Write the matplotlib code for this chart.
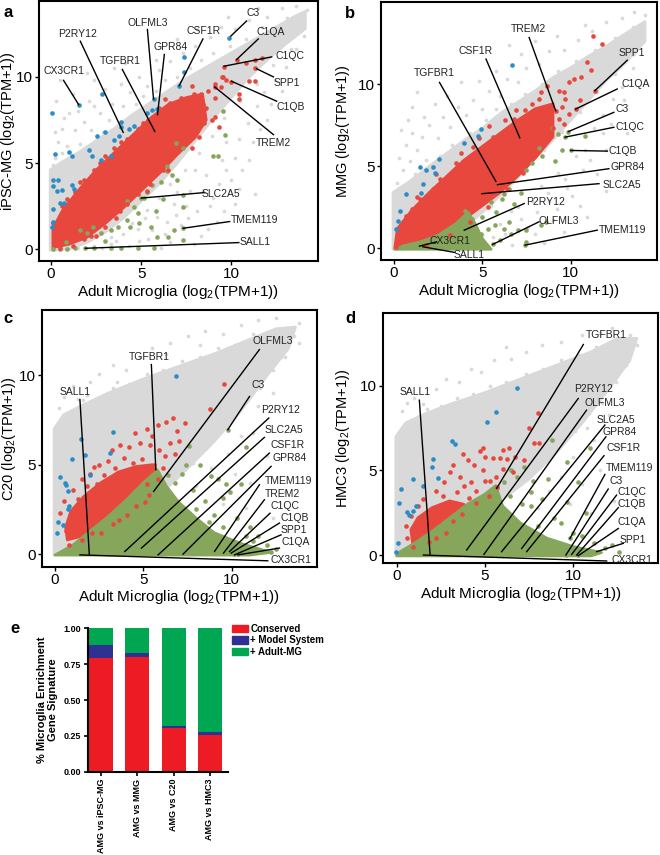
import numpy as np
import matplotlib
matplotlib.use("Agg")
import matplotlib.pyplot as plt
from matplotlib.patches import Polygon, Patch

plt.rcParams['font.family'] = ['Liberation Sans', 'DejaVu Sans']
plt.rcParams['mathtext.fontset'] = 'custom'
plt.rcParams['mathtext.rm'] = 'Liberation Sans'

# colours
GRAY = '#d9d9d9'
RED = '#e8473e'
BLUE = '#2b8dc8'
GREEN = '#86a65c'

# ---------------- panel a: Adult microglia vs iPSC-MG ----------------
a_gray_core = [(-0.05, -0.05), (-0.05, 4.6), (0.5, 5.0), (1.5, 5.6), (2.5, 6.3), (3.5, 7.0), (4.5, 7.8),
               (5.5, 8.5), (6.5, 9.2), (7.5, 9.9), (8.5, 10.5), (9.5, 11.1), (10.5, 11.7), (11.5, 12.3),
               (12.5, 12.9), (13.5, 13.5), (14.1, 13.8), (14.1, 12.8), (13, 11.9), (12, 11.0), (11, 10.0),
               (10, 8.8), (9, 7.6), (8, 6.3), (7, 5.0), (6, 3.8), (5, 2.8), (4, 1.8), (3, 1.0), (2, 0.4), (1, 0.0)]
a_gray_pts = [(0.2, 5.3), (0.4, 6.2), (0.9, 6.0), (0.6, 7.0), (1.3, 6.9), (1.0, 7.9), (1.8, 7.4), (2.1, 8.6),
              (2.7, 7.9), (3.0, 9.3), (3.4, 8.4), (3.9, 9.6), (4.4, 9.1), (4.9, 10.0), (5.3, 9.5), (6.0, 10.4),
              (6.6, 10.9), (7.3, 11.4), (8.0, 11.8), (8.8, 12.3), (9.4, 12.9), (10.2, 12.8), (11.0, 13.3),
              (12.0, 13.5), (12.8, 14.0), (13.6, 14.1), (14.2, 13.9), (0.3, 8.6), (2.4, 9.8), (4.1, 10.8),
              (2.8, 0.1), (3.6, 0.5), (4.3, 0.2), (4.8, 1.2), (5.4, 0.6), (5.9, 1.9), (6.3, 0.9), (6.8, 2.6),
              (7.2, 1.4), (7.7, 3.4), (8.1, 2.2), (8.6, 4.3), (9.0, 3.0), (9.5, 5.2), (10.0, 4.0), (10.4, 6.4),
              (10.9, 7.3), (11.4, 8.3), (11.8, 9.1), (12.4, 9.8), (13.0, 10.6), (13.6, 11.6), (8.3, 0.8),
              (9.2, 1.6), (10.2, 2.6), (6.1, 0.1), (7.9, 0.3), (11.0, 5.2), (12.0, 7.5), (9.7, 6.2),
              (0.1, 4.9), (0.6, 5.6), (1.1, 5.2), (1.6, 6.1), (2.2, 6.9), (2.9, 6.8), (3.2, 7.5), (4.0, 8.3),
              (4.7, 8.4), (5.1, 8.9), (5.8, 9.2), (6.3, 9.8), (7.0, 10.0), (7.7, 10.5), (8.3, 11.0),
              (9.0, 11.4), (9.9, 11.8), (10.8, 12.2), (11.7, 12.9), (13.1, 13.4), (1.5, 0.1), (2.4, 0.2),
              (3.3, 0.7), (4.5, 1.5), (5.3, 2.3), (6.0, 3.0), (6.6, 3.8), (7.4, 4.6), (8.2, 5.6), (8.9, 6.6),
              (9.6, 7.6), (10.5, 8.6), (11.4, 9.6), (12.3, 10.7), (13.3, 11.6), (14.0, 12.4),
              (5.2, 1.8), (5.6, 1.1), (6.4, 1.6), (6.9, 2.0), (7.5, 2.5), (7.0, 3.3), (8.0, 4.6), (8.4, 3.4),
              (8.8, 2.5), (9.3, 3.8), (9.7, 4.6), (10.2, 5.3), (10.6, 4.6), (11.2, 6.2), (11.6, 7.0), (12.2, 8.4),
              (12.8, 9.2), (6.6, 0.4), (7.6, 1.8), (8.7, 1.2), (9.6, 2.2), (10.4, 3.5), (11.3, 3.2), (4.0, 0.9),
              (3.3, 0.3), (4.9, 0.5), (0.2, 6.8), (0.7, 7.6), (1.5, 8.0), (2.4, 8.3), (1.2, 9.0), (2.0, 10.2),
              (3.5, 10.5), (0.5, 9.8), (5.8, 11.0), (7.0, 12.2), (8.1, 12.8), (9.8, 13.5), (11.5, 14.0)]
a_red_core = [(0.1, 0.1), (1, 0.3), (2, 0.7), (3, 1.5), (4, 2.4), (5, 3.4), (6, 4.4), (7, 5.5), (8, 6.5),
              (8.6, 7.5), (8.4, 9.0), (7.5, 8.8), (6.5, 8.4), (5.5, 7.6), (4.5, 6.6), (3.5, 5.6), (2.5, 4.6),
              (1.5, 3.4), (0.6, 2.2), (0.1, 1.2)]
a_red_pts = [(8.3, 9.0), (7.8, 9.5), (8.6, 8.2), (8.9, 7.5), (9.1, 8.8), (9.4, 9.4), (9.1, 9.6), (9.5, 10.0),
             (9.7, 9.8), (10.0, 9.7), (10.4, 9.0), (10.4, 8.7), (9.6, 10.6), (10.3, 11.0), (10.8, 10.8),
             (11.3, 11.0), (11.7, 11.1), (11.3, 10.5), (11.0, 9.75), (11.3, 9.75), (9.3, 7.1), (9.1, 7.7),
             (8.5, 7.3), (8.2, 6.5), (7.8, 5.9), (7.4, 6.5), (6.8, 5.5), (6.2, 4.6), (5.5, 3.8), (4.8, 3.2),
             (4.2, 2.6), (3.6, 1.8), (3.0, 1.3), (2.5, 0.8), (1.8, 0.6), (1.2, 0.2), (0.5, 0.1), (0.2, 0.8),
             (0.1, 1.5), (0.6, 2.5), (1.3, 3.3), (1.8, 4.0), (2.4, 4.6), (3.0, 5.4), (3.5, 5.9), (4.2, 6.4),
             (4.8, 7.0), (5.4, 7.5), (6.0, 8.2), (6.6, 8.5), (7.2, 8.8), (7.6, 8.0), (9.07, 9.42), (9.53, 10.0),
             (0.4, 0.5), (1.4, 1.9), (2.2, 0.8), (2.9, 2.8), (3.8, 2.2), (4.6, 4.8), (5.3, 3.4), (5.8, 6.2),
             (6.5, 4.6), (7.3, 6.2), (8.0, 7.0), (8.4, 8.4), (8.7, 9.2), (7.9, 9.0), (6.3, 8.7), (5.1, 7.3),
             (3.9, 6.2), (2.7, 5.0), (1.6, 3.9), (0.9, 2.9)]
a_blue_pts = [(9.85, 12.27), (7.36, 11.16), (7.36, 10.27), (7.11, 9.5), (1.53, 8.39), (0.04, 7.9), (2.83, 9.0),
              (5.68, 8.72), (5.62, 8.1), (5.9, 8.16), (5.34, 7.9), (3.85, 7.36), (3.85, 7.1), (4.6, 7.13),
              (4.3, 6.95), (2.55, 6.59), (3.0, 6.78), (3.48, 6.36), (3.75, 6.55), (0.22, 5.54), (0.97, 5.62),
              (1.15, 5.39), (2.09, 5.78), (2.27, 5.4), (2.75, 5.2), (3.3, 5.39), (0.13, 4.03), (0.41, 4.03),
              (0.13, 3.65), (0.32, 3.36), (0.6, 3.46), (1.15, 3.75), (1.25, 3.5), (0.5, 2.67), (0.7, 2.67),
              (0.13, 2.35), (0.04, 1.32), (0.13, 1.61)]
a_green_pts = [(9.53, 8.0), (9.66, 6.65), (8.97, 5.39), (9.25, 5.39), (6.93, 6.16), (7.3, 5.87), (6.41, 4.86),
               (6.41, 4.55), (6.7, 4.3), (5.0, 2.97), (5.34, 3.35), (5.62, 3.74), (6.1, 3.9), (7.3, 3.16),
               (7.3, 2.48), (7.32, 1.22), (7.32, 0.54), (4.6, 2.48), (4.8, 2.1), (5.15, 3.0), (4.2, 2.8),
               (1.9, 0.06), (0.13, 0.0), (0.5, 0.0), (0.87, 0.0), (1.34, 0.1), (2.37, 0.1), (3.3, 0.1),
               (3.85, 0.1), (4.8, 0.1), (5.7, 0.1), (1.62, 1.12), (2.0, 0.93), (2.75, 0.93), (3.3, 1.12),
               (3.7, 1.32), (4.4, 1.3), (4.2, 1.7), (5.53, 1.32), (5.9, 0.74), (6.83, 1.12), (6.5, 0.74),
               (4.85, 1.55), (3.0, 0.5), (2.3, 1.3), (0.8, 0.4), (5.8, 2.2), (6.2, 2.9), (7.0, 4.0)]
a_genes = ["C3", "C1QA", "C1QC", "SPP1", "C1QB", "TREM2", "CSF1R", "GPR84", "OLFML3", "TGFBR1",
           "P2RY12", "CX3CR1", "SLC2A5", "TMEM119", "SALL1"]
a_gene_x = [9.96, 10.28, 9.59, 11.4, 10.0, 9.07, 7.11, 5.9, 5.68, 5.75, 4.0, 1.53, 5.0, 7.32, 1.9]
a_gene_y = [12.36, 11.0, 10.62, 10.47, 9.75, 9.42, 9.5, 7.81, 8.72, 6.84, 6.78, 8.39, 2.97, 1.22, 0.06]

# ---------------- panel b: Adult microglia vs MMG ----------------
b_gray_core = [(-0.05, -0.05), (-0.05, 3.4), (0.8, 4.0), (2, 5.0), (3, 5.8), (4, 6.6), (5, 7.3), (6, 8.2),
               (7, 8.9), (8, 9.6), (9, 10.4), (10, 11.0), (11, 11.7), (12, 12.3), (13, 13.0), (14.2, 13.8),
               (14.2, 12.6), (13, 11.2), (12, 10.2), (11, 9.0), (10, 7.8), (9, 6.6), (8, 5.5), (7, 4.3),
               (6, 3.2), (5, 2.2), (4, 1.3), (3, 0.6), (2, 0.2), (1, 0.0)]
b_gray_pts = [(0.2, 4.0), (0.5, 4.8), (0.3, 5.5), (0.9, 5.3), (0.7, 6.3), (1.3, 6.0), (1.0, 7.0), (1.6, 6.8),
              (0.8, 7.8), (2.0, 7.5), (2.5, 6.7), (2.8, 8.0), (3.2, 7.4), (3.6, 8.6), (4.1, 8.1), (4.5, 9.0),
              (5.0, 8.5), (5.4, 9.6), (6.0, 9.3), (6.4, 10.3), (7.0, 10.1), (7.5, 11.0), (8.2, 11.2),
              (8.8, 12.0), (9.6, 12.1), (10.4, 12.7), (11.2, 13.2), (12.0, 13.8), (12.9, 14.0), (13.6, 14.4),
              (14.2, 14.2), (3.8, 10.1), (1.3, 9.5), (6.5, 12.4), (3.0, 0.1), (4.0, 0.3), (5.0, 0.8),
              (6.0, 1.5), (6.6, 2.3), (7.2, 1.8), (7.8, 2.9), (8.3, 3.8), (8.8, 2.9), (9.3, 4.6), (9.8, 3.7),
              (10.3, 5.6), (10.8, 6.0), (11.3, 7.3), (11.8, 8.1), (12.4, 9.1), (12.9, 9.8), (13.5, 11.0),
              (9.0, 1.7), (10.5, 2.6), (11.5, 4.5), (12.0, 6.0), (8.0, 0.9), (6.7, 0.2), (8.5, 0.3),
              (0.3, 3.7), (1.2, 4.5), (1.8, 5.4), (2.6, 5.6), (3.3, 6.3), (4.3, 7.0), (5.2, 7.8), (5.8, 8.5),
              (6.6, 8.8), (7.4, 9.4), (8.4, 10.0), (9.3, 10.8), (10.3, 11.4), (11.4, 12.1), (12.5, 12.8),
              (13.5, 13.5), (1.5, 0.1), (2.6, 0.3), (3.5, 0.9), (4.5, 1.6), (5.5, 2.6), (6.5, 3.7), (7.5, 4.8),
              (8.5, 6.0), (9.5, 7.1), (10.5, 8.3), (11.5, 9.5), (12.5, 10.6), (13.6, 11.8),
              (5.6, 0.7), (6.3, 0.9), (7.0, 2.5), (7.6, 1.3), (8.1, 2.2), (8.7, 3.4), (9.2, 2.4), (9.7, 4.2),
              (10.1, 3.2), (10.7, 4.8), (11.1, 5.4), (11.8, 7.0), (12.3, 7.6), (13.0, 9.0), (9.6, 1.0),
              (10.9, 1.9), (12.0, 3.5), (12.6, 5.0), (13.2, 7.0), (0.4, 7.2), (1.7, 8.0), (2.3, 8.8),
              (3.0, 9.3), (1.0, 8.6), (4.8, 10.2), (5.8, 10.8), (7.2, 11.8), (8.0, 12.6), (9.2, 12.9), (10.8, 13.6)]
b_red_core = [(0.05, 0.0), (1, 0.05), (2, 0.45), (3, 1.1), (4, 1.8), (5, 2.6), (6, 3.4), (7, 4.4), (8, 5.5),
              (9, 6.8), (9, 8.8), (8, 8.5), (7, 7.8), (6, 7.0), (5, 6.2), (4, 5.4), (3, 4.4), (2, 3.4),
              (1, 2.3), (0.2, 1.2)]
b_red_pts = [(11.28, 12.93), (11.79, 12.42), (10.94, 11.37), (11.13, 10.85), (11.37, 9.6), (10.19, 10.3),
             (9.9, 10.1), (8.68, 9.9), (9.34, 9.6), (9.7, 9.1), (9.5, 8.6), (9.15, 8.38), (9.34, 7.88),
             (10.28, 8.48), (9.6, 7.6), (9.9, 8.2), (10.5, 9.0), (5.4, 7.47), (6.3, 7.8), (7.4, 8.4),
             (8.2, 9.1), (7.8, 8.8), (8.5, 7.0), (9.0, 7.3), (8.8, 6.8), (7.8, 6.2), (0.1, 0.1), (0.3, 0.3),
             (4.5, 6.2), (3.5, 5.2), (2.6, 4.2), (1.5, 3.0), (0.7, 2.0), (1.8, 0.2), (3.2, 0.8), (4.3, 1.6),
             (5.3, 2.5), (6.4, 3.6), (7.3, 4.6), (5.86, 3.88), (5.77, 4.08), (4.98, 3.33), (7.12, 6.73),
             (6.8, 7.9), (5.6, 6.8), (2.2, 3.6), (1.0, 2.4), (4.8, 6.7), (8.3, 9.5), (3.8, 5.8), (2.4, 4.5),
             (1.3, 3.1), (6.9, 8.4), (9.6, 9.5), (10.6, 10.4)]
b_blue_pts = [(6.67, 11.17), (4.92, 7.27), (4.74, 6.87), (3.98, 6.4), (2.58, 5.45), (2.24, 4.95), (1.82, 4.75),
              (2.35, 4.6), (1.45, 4.95), (1.67, 3.94), (1.54, 3.37), (0.66, 3.33), (0.32, 2.28), (0.23, 1.68),
              (0.13, 1.21)]
b_green_core = [(0.05, -0.05), (5.5, -0.05), (5.0, 0.6), (4.6, 1.5), (4.2, 2.2), (3.5, 1.5), (2.5, 0.8),
                (1.5, 0.4), (0.5, 0.15)]
b_green_pts = [(4.0, 2.3), (4.4, 1.8), (5.0, 1.9), (5.3, 1.2), (5.7, 1.4), (6.2, 1.2), (6.5, 1.6), (7.0, 1.1),
               (7.46, 1.11), (7.5, 0.4), (6.6, 0.9), (6.0, 0.5), (5.58, 0.24), (7.42, 0.2), (8.3, 1.4),
               (8.6, 1.6), (5.5, 2.8), (6.1, 3.0), (7.2, 3.4), (6.5, 3.6), (7.5, 4.8), (7.8, 5.2), (8.2, 6.1),
               (8.4, 5.6), (9.1, 5.3), (8.93, 7.31), (9.3, 6.97), (10.81, 6.81), (9.87, 7.11), (9.68, 6.77),
               (10.0, 5.96), (4.9, 0.9), (3.9, 1.1), (3.98, 1.11), (3.2, 1.0), (2.8, 0.6), (6.8, 2.7),
               (5.8, 2.2), (1.45, 0.14), (1.64, 0.1), (2.2, 0.1), (3.0, 0.2), (6.2, 3.3), (9.5, 6.0)]
b_genes = ["TREM2", "CSF1R", "TGFBR1", "SPP1", "C1QA", "C3", "C1QC", "C1QB", "GPR84", "SLC2A5",
           "P2RY12", "OLFML3", "TMEM119", "CX3CR1", "SALL1"]
b_gene_x = [9.15, 7.12, 5.77, 11.37, 10.28, 9.87, 9.68, 10.0, 5.86, 4.98, 3.98, 5.58, 7.42, 1.45, 1.64]
b_gene_y = [8.38, 6.73, 4.08, 9.6, 8.48, 7.11, 6.77, 5.96, 3.88, 3.33, 1.11, 0.24, 0.2, 0.14, 0.1]

# ---------------- panel c: Adult microglia vs C20 ----------------
c_gray_core = [(-0.05, -0.05), (-0.05, 7.0), (0.5, 7.8), (1.5, 8.3), (3, 9.0), (5, 9.8), (7, 10.5), (9, 11.2),
               (11, 12.0), (12.5, 12.6), (13.6, 12.7), (13.2, 11.5), (12, 10.0), (10.5, 8.0), (9, 6.3),
               (7.5, 4.8), (6, 3.4), (4, 2.0), (2, 0.8), (1, 0.2)]
c_gray_pts = [(0.2, 8.2), (0.5, 8.8), (1, 9.4), (1.3, 8.7), (1.8, 8.9), (2, 9.6), (2.5, 10.1), (3.3, 10.6),
              (3.5, 9.6), (4, 10.3), (4.8, 11), (5.5, 11.5), (6.3, 11.2), (6.5, 11.8), (7.5, 12.2), (8.2, 11.7),
              (8.5, 12.5), (9.5, 12.3), (10.5, 12.8), (11.5, 13.1), (12.5, 13.2), (13.5, 12.2), (13.8, 11.8),
              (12.8, 11.0), (11.5, 8.3), (10.5, 6.6), (9.8, 5.6), (11.2, 6.8), (12.3, 9.0), (8.8, 4.8),
              (10.2, 4.5), (11.0, 4.0), (12.0, 5.5), (9.5, 2.8), (10.8, 2.6), (12.3, 2.0), (13, 3.5), (8.0, 3.8),
              (0.3, 7.5), (0.9, 8.0), (1.6, 8.6), (2.4, 8.7), (3.3, 9.3), (4.2, 9.5), (5.2, 10.1), (6.1, 10.3),
              (7.2, 10.8), (8.2, 11.0), (9.2, 11.5), (10.2, 11.7), (11.2, 12.3), (12.2, 12.5), (13.8, 12.9),
              (13.0, 11.0), (12.3, 10.3), (11.6, 9.3), (10.8, 8.6), (10.0, 7.5), (9.2, 6.8), (8.4, 5.9),
              (7.8, 5.1), (6.8, 4.5)]
c_red_core = [(0.7, 0.8), (1.5, 1.0), (2.5, 1.4), (3.5, 2.1), (4.5, 2.9), (5.4, 3.7), (5.9, 4.5), (5.5, 5.0),
              (4.6, 4.9), (3.6, 4.6), (2.6, 4.0), (1.6, 3.2), (0.9, 2.4), (0.6, 1.5)]
c_red_pts = [(9.53, 9.53), (8.74, 8.12), (7.33, 7.33), (6.67, 7.61), (6.3, 7.4), (5.8, 7.2), (5.2, 7.0),
             (4.5, 6.8), (3.67, 6.12), (3.2, 5.8), (2.5, 5.0), (1.5, 4.2), (1.0, 3.6), (0.5, 3.0), (0.3, 2.3),
             (6.5, 6.2), (6.2, 5.5), (7.0, 6.3), (6.8, 5.6), (5.4, 6.1), (4.2, 6.0), (2.0, 4.5), (0.8, 0.5),
             (1.5, 0.8), (2.6, 1.2), (3.6, 1.9), (4.6, 2.7), (5.3, 3.3), (5.8, 4.2), (6.1, 4.8), (5.6, 5.0),
             (5.0, 4.6), (4.9, 5.3), (4.4, 5.1), (3.9, 5.4), (3.4, 4.8), (2.8, 4.4), (2.4, 3.9), (1.8, 3.8),
             (1.3, 3.1), (0.9, 2.3), (0.6, 1.3), (1.9, 2.6), (2.9, 3.3), (3.8, 3.8), (5.2, 3.9), (5.9, 5.8),
             (5.5, 6.6), (4.8, 6.2), (6.9, 6.9), (3.0, 5.2), (2.2, 4.9), (1.2, 2.0), (2.1, 1.2), (3.3, 1.7),
             (4.1, 2.2), (5.1, 2.9), (4.0, 4.6)]
c_blue_pts = [(6.82, 9.94), (3.29, 6.81), (1.45, 6.46), (0.94, 5.32), (1.69, 5.52), (3.1, 5.65), (0.28, 4.29),
              (0.56, 3.97), (0.6, 3.85), (1.97, 4.44), (0.75, 3.54), (0.81, 2.67), (0.75, 2.55), (0.19, 1.79),
              (0.47, 1.64), (0.13, 1.18)]
c_green_core = [(0, -0.05), (11, -0.05), (12.2, 0.1), (10.5, 0.6), (9, 1.2), (8, 2.0), (7, 2.9), (6.3, 3.8),
                (5.8, 4.7), (5, 4.0), (4, 3.0), (3, 2.1), (2, 1.3), (1, 0.5)]
c_green_pts = [(9.77, 6.96), (10.8, 5.97), (7.58, 6.03), (8.18, 5.0), (8.83, 4.35), (9.2, 4.2), (9.68, 3.9),
               (9.9, 3.5), (9.49, 3.13), (10.5, 3.9), (7.2, 4.5), (6.8, 4.0), (7.8, 3.6), (8.5, 3.0), (8.0, 2.5),
               (9.0, 2.2), (10.3, 2.0), (11.0, 1.5), (11.5, 1.0), (11.18, 0.71), (12.0, 0.5), (12.5, 0.3),
               (10.8, 1.0), (9.5, 1.5), (8.7, 1.8), (6.6, 3.2), (7.0, 2.2), (11.8, 0.2), (12.2, 0.1),
               (6.4, 4.4), (7.4, 5.0), (5.58, 3.51), (9.87, 0.15), (9.96, 0.06), (10.15, 0.0), (10.34, 0.0)]
c_genes = ["OLFML3", "TGFBR1", "SALL1", "C3", "P2RY12", "SLC2A5", "CSF1R", "GPR84", "TMEM119", "TREM2",
           "C1QC", "C1QB", "SPP1", "C1QA", "CX3CR1"]
c_gene_x = [5.58, 5.7, 1.94, 9.77, 3.95, 4.89, 5.83, 7.24, 9.02, 9.53, 9.87, 9.96, 10.15, 10.34, 1.41]
c_gene_y = [3.51, 4.72, 0.0, 6.96, 0.15, 0.34, -0.04, 0.0, 0.15, 0.06, 0.15, 0.06, -0.04, -0.04, -0.04]

# ---------------- panel d: Adult microglia vs HMC3 ----------------
d_gray_core = [(-0.05, -0.05), (-0.05, 7.0), (0.5, 7.8), (1.5, 8.3), (3, 8.9), (5, 9.6), (7, 10.4), (9, 11.2),
               (11, 12.0), (12.5, 12.8), (13.6, 12.8), (13.2, 11.5), (12, 9.8), (10.5, 7.8), (9, 6.0),
               (7.5, 4.5), (6, 3.3), (4, 2.0), (2, 0.8), (1, 0.3)]
d_gray_pts = [(0.3, 8.5), (0.6, 9.0), (1, 9.3), (1.5, 8.9), (2.2, 9.8), (2.8, 10.4), (3.5, 10.2), (4.2, 11),
              (4.8, 10.8), (5.5, 11.5), (6.2, 12.3), (6.5, 11.6), (7.3, 12.0), (8.2, 12.4), (9.3, 12.6),
              (10.5, 13.0), (11.5, 13.1), (12.2, 13.4), (13.2, 13.0), (13.6, 12.4), (12.5, 10.8), (11.5, 9.3),
              (10.8, 7.5), (10.0, 5.8), (11.2, 6.8), (12.0, 8.3), (9.3, 4.6), (8.6, 3.8), (10.5, 4.2),
              (11.5, 5.0), (12.6, 6.5), (9.8, 3.0), (11.0, 2.5), (12.3, 3.2), (8.0, 2.8), (7.0, 0.8), (8.5, 0.5),
              (0.3, 7.5), (0.9, 8.0), (1.7, 8.6), (2.5, 8.8), (3.4, 9.3), (4.3, 9.5), (5.3, 10.0), (6.2, 10.2),
              (7.3, 10.7), (8.3, 11.0), (9.3, 11.5), (10.3, 11.8), (11.3, 12.3), (12.3, 12.6), (13.0, 11.2),
              (12.4, 10.2), (11.6, 9.0), (10.9, 8.4), (10.1, 7.3), (9.3, 6.6), (8.5, 5.6), (7.8, 4.9), (6.9, 4.2)]
d_red_core = [(0.9, 0.7), (1.8, 1.0), (2.8, 1.5), (3.5, 2.2), (3.8, 3.0), (3.0, 3.2), (2.0, 2.8), (1.2, 2.2),
              (0.8, 1.5)]
d_red_pts = [(8.02, 8.37), (7.51, 7.48), (7.77, 6.63), (8.08, 6.65), (6.38, 6.3), (4.9, 6.3), (4.7, 6.15),
             (5.47, 5.71), (5.85, 5.72), (6.25, 5.7), (6.7, 5.8), (3.77, 6.0), (4.05, 5.6), (4.4, 5.3),
             (3.2, 5.31), (3.0, 4.9), (3.6, 4.6), (4.2, 4.3), (5.0, 4.4), (5.6, 4.6), (5.7, 4.0), (5.2, 3.5),
             (4.5, 3.8), (2.2, 3.8), (1.5, 3.3), (1.2, 2.9), (2.7, 4.3), (3.8, 4.1), (4.9, 5.0), (6.0, 5.1),
             (6.6, 4.9), (0.6, 1.0), (0.5, 1.7), (2.2, 1.0), (3.2, 2.0), (4.5, 3.1), (5.3, 4.4), (7.2, 5.6),
             (5.0, 5.8), (6.0, 6.2), (3.3, 3.1), (2.0, 2.5), (1.3, 1.4), (0.8, 2.3), (1.6, 2.0), (2.6, 3.5),
             (3.4, 3.7), (4.1, 3.4), (2.4, 2.0), (3.0, 2.6), (0.9, 0.5), (1.8, 0.8), (2.8, 1.3), (3.7, 2.4)]
d_blue_pts = [(6.83, 9.88), (5.62, 8.43), (5.13, 7.87), (3.11, 6.73), (3.3, 6.59), (2.04, 5.67), (1.98, 5.22),
              (2.36, 4.57), (0.91, 4.49), (1.47, 4.09), (0.23, 3.9), (0.15, 3.05), (0.6, 2.56), (0.9, 2.6),
              (1.09, 2.91), (0.7, 2.35), (0.09, 0.69), (-0.04, 0.2)]
d_green_core = [(0.0, -0.05), (11.0, -0.05), (11.6, 0.15), (10.0, 0.5), (8.5, 1.0), (7.0, 1.9), (6.0, 2.9),
                (5.6, 4.1), (5.0, 3.6), (4.0, 3.0), (3.0, 2.2), (2.0, 1.4), (1.0, 0.7), (0.2, 0.2)]
d_green_pts = [(8.77, 6.79), (10.94, 6.3), (9.62, 5.51), (10.28, 4.33), (8.58, 4.49), (9.62, 3.15), (8.9, 2.2),
               (7.6, 2.9), (7.6, 3.7), (6.8, 4.6), (7.2, 5.2), (6.5, 5.0), (8.2, 3.3), (9.3, 1.9), (10.0, 1.3),
               (10.5, 1.1), (11.2, 0.7), (11.8, 0.4), (12.2, 0.6), (9.81, 0.98), (12.6, 0.2), (11.32, 0.2),
               (10.7, 2.5), (6.4, 3.5), (7.1, 3.0), (8.0, 1.7), (5.66, 3.94), (6.1, 4.3), (7.7, 4.4),
               (9.58, 0.0), (10.2, 0.05), (10.28, 0.0)]
d_genes = ["TGFBR1", "SALL1", "P2RY12", "OLFML3", "SLC2A5", "GPR84", "CSF1R", "TMEM119", "C3", "C1QC",
           "C1QB", "C1QA", "SPP1", "CX3CR1"]
d_gene_x = [5.66, 1.89, 3.96, 4.94, 5.94, 7.08, 7.36, 9.81, 9.58, 9.91, 10.19, 10.28, 11.32, 1.51]
d_gene_y = [3.94, 0.0, 0.3, 0.04, 0.2, 0.39, 0.2, 0.98, 0.0, 0.04, 0.0, -0.04, 0.2, 0.0]

# ---------------- panel e: stacked bars ----------------
comparisons = ["AMG vs iPSC-MG", "AMG vs MMG", "AMG vs C20", "AMG vs HMC3"]
conserved = [0.795, 0.803, 0.305, 0.258]
model_system = [0.09, 0.022, 0.017, 0.022]
adult_mg = [0.115, 0.175, 0.678, 0.72]


def draw_scatter(ax, gray_core, gray_pts, red_core, red_pts, green_core, green_pts, blue_pts,
                 genes, gx, gy, layout, ylabel, xlim, ylim, ylab_x):
    ax.add_patch(Polygon(gray_core, closed=True, fc=GRAY, ec=GRAY, lw=2, joinstyle='round', zorder=1))
    p = np.array(gray_pts)
    ax.scatter(p[:, 0], p[:, 1], s=7, c=GRAY, linewidths=0, zorder=1)
    ax.add_patch(Polygon(red_core, closed=True, fc=RED, ec=RED, lw=2, joinstyle='round', zorder=2))
    if green_core is not None:
        ax.add_patch(Polygon(green_core, closed=True, fc=GREEN, ec=GREEN, lw=2, joinstyle='round', zorder=2))
    for pts, col in [(green_pts, GREEN), (red_pts, RED), (blue_pts, BLUE)]:
        p = np.array(pts)
        ax.scatter(p[:, 0], p[:, 1], s=11, c=col, linewidths=0, zorder=3)
    for name, x, y in zip(genes, gx, gy):
        tx, ty, lx, ly = layout[name]
        ax.plot([x, lx], [y, ly], color='black', lw=1.0, zorder=4)
        ax.text(tx, ty, name, fontsize=7.5, ha='center', va='center', color='#222222', zorder=5)
    ax.set_xlim(*xlim)
    ax.set_ylim(*ylim)
    ax.set_xticks([0, 5, 10])
    ax.set_yticks([0, 5, 10])
    ax.tick_params(labelsize=11, length=3, width=1, pad=1.5)
    for s in ax.spines.values():
        s.set_linewidth(1.5)
    ax.set_xlabel(r'Adult Microglia (log$_2$(TPM+1))', fontsize=11, labelpad=1)
    ax.set_ylabel(ylabel, fontsize=10.5)
    ax.yaxis.set_label_coords(ylab_x, 0.5)


# label positions (text x, text y, line end x, line end y)
a_layout = {"C3": (11.2, 13.68, 10.84, 13.24), "C1QA": (12.2, 12.6, 11.49, 12.2),
            "C1QC": (13.26, 11.24, 12.23, 11.16), "SPP1": (13.07, 9.65, 12.33, 10.0),
            "C1QB": (13.26, 8.26, 12.51, 8.59), "TREM2": (12.33, 6.16, 12.33, 6.65),
            "CSF1R": (8.47, 12.66, 8.42, 12.2), "GPR84": (6.65, 11.74, 6.28, 11.3),
            "OLFML3": (5.34, 13.14, 5.34, 12.75), "TGFBR1": (3.82, 10.91, 3.95, 10.43),
            "P2RY12": (1.47, 12.5, 1.62, 12.07), "CX3CR1": (0.69, 10.33, 0.69, 9.8),
            "SLC2A5": (9.44, 3.22, 8.51, 3.29), "TMEM119": (11.3, 1.71, 9.9, 1.61),
            "SALL1": (11.34, 0.41, 10.41, 0.39)}
b_layout = {"TREM2": (7.61, 13.33, 7.65, 12.83), "CSF1R": (4.64, 12.02, 5.21, 11.52),
            "TGFBR1": (2.29, 10.65, 2.58, 10.1), "SPP1": (13.48, 11.86, 13.2, 11.45),
            "C1QA": (13.67, 10.0, 12.63, 9.7), "C3": (12.91, 8.48, 12.44, 8.28),
            "C1QC": (13.38, 7.41, 12.44, 7.37), "C1QB": (12.95, 5.92, 12.07, 5.92),
            "GPR84": (13.2, 4.95, 12.16, 4.85), "SLC2A5": (12.91, 3.88, 11.6, 3.94),
            "P2RY12": (8.59, 2.83, 7.37, 2.73), "OLFML3": (9.34, 1.68, 8.21, 1.62),
            "TMEM119": (12.91, 1.11, 11.5, 1.11), "CX3CR1": (3.18, 0.44, 2.42, 0.4),
            "SALL1": (4.27, -0.4, 3.42, -0.24)}
c_layout = {"OLFML3": (12.31, 11.9, 11.56, 11.44), "TGFBR1": (5.36, 11.0, 5.45, 10.6),
            "SALL1": (1.13, 9.07, 1.41, 8.64), "C3": (11.47, 9.44, 11.0, 8.82),
            "P2RY12": (12.78, 8.08, 12.09, 7.61), "SLC2A5": (12.97, 6.96, 11.84, 6.53),
            "CSF1R": (13.16, 6.08, 12.12, 5.65), "GPR84": (13.25, 5.37, 12.22, 4.91),
            "TMEM119": (13.21, 4.1, 11.56, 3.88), "TREM2": (12.88, 3.36, 11.84, 3.04),
            "C1QC": (13.03, 2.7, 12.16, 2.29), "C1QB": (13.53, 2.01, 12.69, 1.74),
            "SPP1": (13.48, 1.36, 12.78, 1.08), "C1QA": (13.63, 0.67, 12.69, 0.34),
            "CX3CR1": (13.35, -0.35, 12.03, -0.37)}
d_layout = {"TGFBR1": (11.89, 12.99, 10.57, 12.44), "SALL1": (1.04, 9.61, 1.28, 9.15),
            "P2RY12": (11.13, 9.84, 10.28, 9.25), "OLFML3": (11.79, 8.96, 10.75, 8.56),
            "SLC2A5": (12.42, 7.97, 11.79, 7.68), "GPR84": (12.6, 7.28, 11.85, 6.99),
            "CSF1R": (12.83, 6.34, 11.74, 5.87), "TMEM119": (13.21, 5.16, 11.79, 4.76),
            "C3": (12.42, 4.37, 11.98, 3.9), "C1QC": (13.3, 3.74, 12.45, 3.54),
            "C1QB": (13.3, 2.99, 12.55, 2.8), "C1QA": (13.3, 1.93, 12.55, 1.57),
            "SPP1": (13.4, 0.89, 12.83, 0.69), "CX3CR1": (13.3, -0.3, 11.89, -0.35)}

fig = plt.figure(figsize=(6.6, 8.55), dpi=100)

ax_a = fig.add_axes([0.0591, 0.6947, 0.4227, 0.3041])
draw_scatter(ax_a, a_gray_core, a_gray_pts, a_red_core, a_red_pts, None, a_green_pts, a_blue_pts,
             a_genes, a_gene_x, a_gene_y, a_layout, r'iPSC-MG (log$_2$(TPM+1))', (-0.67, 14.8), (-0.68, 14.4),
             -0.078)
ax_b = fig.add_axes([0.578, 0.696, 0.418, 0.3018])
draw_scatter(ax_b, b_gray_core, b_gray_pts, b_red_core, b_red_pts, b_green_core, b_green_pts, b_blue_pts,
             b_genes, b_gene_x, b_gene_y, b_layout, r'MMG (log$_2$(TPM+1))', (-0.7, 14.9), (-0.7, 15.0),
             -0.108)
ax_c = fig.add_axes([0.0632, 0.3372, 0.4167, 0.3002])
draw_scatter(ax_c, c_gray_core, c_gray_pts, c_red_core, c_red_pts, c_green_core, c_green_pts, c_blue_pts,
             c_genes, c_gene_x, c_gene_y, c_layout, r'C20 (log$_2$(TPM+1))', (-0.75, 14.8), (-0.7, 13.65),
             -0.085)
ax_d = fig.add_axes([0.5808, 0.3415, 0.4162, 0.2924])
draw_scatter(ax_d, d_gray_core, d_gray_pts, d_red_core, d_red_pts, d_green_core, d_green_pts, d_blue_pts,
             d_genes, d_gene_x, d_gene_y, d_layout, r'HMC3 (log$_2$(TPM+1))', (-0.76, 14.8), (-0.47, 14.3),
             -0.113)

# stacked bar panel
ax_e = fig.add_axes([0.1338, 0.0974, 0.2117, 0.1677])
x = np.arange(len(comparisons))
bottom2 = np.array(conserved) + np.array(model_system)
ax_e.bar(x, conserved, width=0.66, color='#ed1c24')
ax_e.bar(x, model_system, width=0.66, bottom=conserved, color='#2e3192')
ax_e.bar(x, adult_mg, width=0.66, bottom=bottom2, color='#00a651')
ax_e.set_xlim(-0.35, 3.5)
ax_e.set_ylim(0, 1.0)
ax_e.set_yticks([0, 0.25, 0.5, 0.75, 1.0])
ax_e.set_yticklabels(['0.00', '0.25', '0.50', '0.75', '1.00'], fontsize=6.5, fontweight='bold')
ax_e.set_xticks(x)
ax_e.set_xticklabels(comparisons, rotation=90, fontsize=6.5, fontweight='bold')
ax_e.spines['top'].set_visible(False)
ax_e.spines['right'].set_visible(False)
ax_e.spines['left'].set_linewidth(1.5)
ax_e.spines['bottom'].set_linewidth(1.5)
ax_e.tick_params(length=3, width=1.2, pad=2)
ax_e.set_ylabel('% Microglia Enrichment\nGene Signature', fontsize=8, fontweight='bold', linespacing=1.1)
handles = [Patch(color='#ed1c24', label='Conserved'), Patch(color='#2e3192', label='+ Model System'),
           Patch(color='#00a651', label='+ Adult-MG')]
fig.legend(handles=handles, loc='upper left', bbox_to_anchor=(232 / 660, 1 - 624 / 855), frameon=False,
           prop={'size': 7, 'weight': 'bold'}, handlelength=1.6, handleheight=0.8, handletextpad=0.3,
           labelspacing=0.15, borderpad=0, borderaxespad=0)

# panel letters
for lbl, px, py in [('a', 0.005, 0.985), ('b', 0.523, 0.984), ('c', 0.005, 0.628), ('d', 0.523, 0.628),
                    ('e', 0.015, 0.265)]:
    fig.text(px, py, lbl, fontsize=12, fontweight='bold', ha='left', va='center')

fig.savefig('out.png', dpi=100)
